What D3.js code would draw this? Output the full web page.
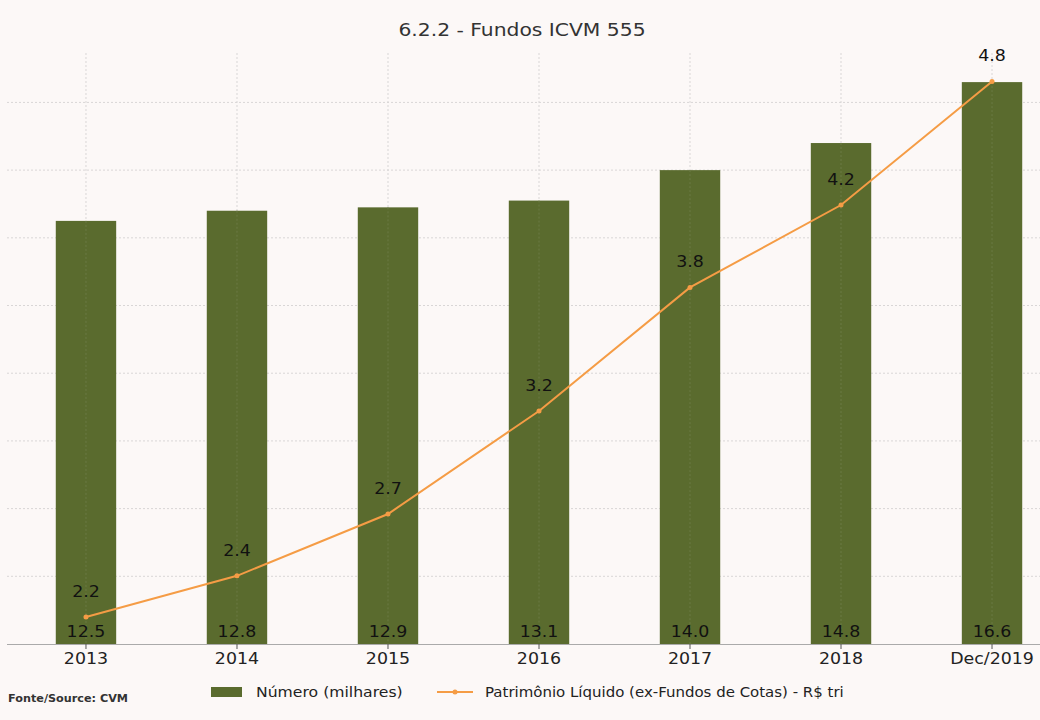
<!DOCTYPE html>
<html>
<head>
<meta charset="utf-8">
<script src="https://cdn.jsdelivr.net/npm/d3@7"></script>
<style>
  html, body { margin: 0; padding: 0; background: #fcf8f7; }
  svg { display: block; font-family: "DejaVu Sans", sans-serif; }
</style>
</head>
<body>
<svg id="chart" width="1040" height="720"></svg>
<script>
// ---- data ----
const categories = ["2013", "2014", "2015", "2016", "2017", "2018", "Dec/2019"];
const numero = [12.5, 12.8, 12.9, 13.1, 14.0, 14.8, 16.6];      // bars, thousands
const patrimonio = [2.2, 2.4, 2.7, 3.2, 3.8, 4.2, 4.8];           // line, R$ tri
const gridTicks = [0, 2, 4, 6, 8, 10, 12, 14, 16];

const title = "6.2.2 - Fundos ICVM 555";
const barName = "Número (milhares)";
const lineName = "Patrimônio Líquido (ex-Fundos de Cotas) - R$ tri";
const source = "Fonte/Source: CVM";

const green = "#5a6b2e", orange = "#f59c45", grid = "#d9d6d6", ink = "#222";
const SX = 1.16; // reference text is a bit wider than plain DejaVu

const svg = d3.select("#chart");
const m = { top: 53, right: 0, bottom: 76, left: 7 };
const H = 720 - m.top - m.bottom;   // plot height

const x = d3.scaleBand().domain(categories)
  .range([m.left, 1071]).paddingInner(0.6).paddingOuter(0.323);
const yBar = d3.scaleLinear().domain([0, 17.46]).range([m.top + H, m.top]);
const yLine = d3.scaleLinear().domain([2.069, 4.938]).range([m.top + H, m.top]);
const cx = d => x(d) + x.bandwidth() / 2;

// text placed at (px,py) and stretched horizontally around its anchor
function label(parent, px, py, str, size, anchor = "start", sx = SX) {
  return parent.append("text")
    .attr("transform", `translate(${px},${py}) scale(${sx},1)`)
    .attr("text-anchor", anchor).attr("font-size", size).attr("fill", ink)
    .text(str);
}

// title
label(svg, 522, 36, title, 17.5, "middle").attr("fill", "#333");

// horizontal grid
svg.append("g").selectAll("line").data(gridTicks.slice(1)).join("line")
  .attr("x1", m.left).attr("x2", 1040)
  .attr("y1", d => yBar(d)).attr("y2", d => yBar(d))
  .attr("stroke", grid).attr("stroke-dasharray", "2,2");

// vertical grid
svg.append("g").selectAll("line").data(categories).join("line")
  .attr("x1", cx).attr("x2", cx).attr("y1", m.top).attr("y2", m.top + H)
  .attr("stroke", grid).attr("stroke-dasharray", "2,2");

// bars
svg.append("g").selectAll("rect").data(numero).join("rect")
  .attr("x", (d, i) => x(categories[i])).attr("width", x.bandwidth())
  .attr("y", d => yBar(d)).attr("height", d => yBar(0) - yBar(d))
  .attr("fill", green);

// faint grid over bars
svg.append("g").selectAll("line").data(categories).join("line")
  .attr("x1", cx).attr("x2", cx)
  .attr("y1", (d, i) => yBar(numero[i])).attr("y2", m.top + H)
  .attr("stroke", "#6b7a45").attr("stroke-dasharray", "2,2");

// bar value labels
const barLabels = svg.append("g");
numero.forEach((d, i) => label(barLabels, cx(categories[i]), yBar(0) - 7, d.toFixed(1), 15, "middle").attr("fill", "#111"));

// x axis
const xAxis = svg.append("g").attr("transform", `translate(0,${yBar(0)})`)
  .call(d3.axisBottom(x).tickSize(5).tickPadding(4));
xAxis.select(".domain").attr("stroke", "#aaa").attr("d", `M${m.left},0.5H1040`);
xAxis.selectAll(".tick line").attr("stroke", "#555");
xAxis.selectAll(".tick text").attr("font-size", 15).attr("fill", ink)
  .attr("font-family", "DejaVu Sans, sans-serif")
  .attr("transform", `scale(${SX},1)`);

// line
svg.append("path").datum(patrimonio)
  .attr("fill", "none").attr("stroke", orange).attr("stroke-width", 2)
  .attr("d", d3.line().x((d, i) => cx(categories[i])).y(d => yLine(d)));

svg.append("g").selectAll("circle").data(patrimonio).join("circle")
  .attr("cx", (d, i) => cx(categories[i])).attr("cy", d => yLine(d))
  .attr("r", 2.5).attr("fill", orange);

const lineLabels = svg.append("g");
patrimonio.forEach((d, i) => label(lineLabels, cx(categories[i]), yLine(d) - 20, d.toFixed(1), 15, "middle").attr("fill", "#111"));

// legend
const lg = svg.append("g");
lg.append("rect").attr("x", 211).attr("y", 687).attr("width", 31).attr("height", 10).attr("fill", green);
label(lg, 256, 697, barName, 13.5);
lg.append("line").attr("x1", 437).attr("x2", 473).attr("y1", 692).attr("y2", 692)
  .attr("stroke", orange).attr("stroke-width", 2);
lg.append("circle").attr("cx", 455).attr("cy", 692).attr("r", 2.5).attr("fill", orange);
label(lg, 485, 697, lineName, 13.5, "start", 1.11);

// source
label(svg, 8, 702, source, 10.5, "start", 1.07).attr("font-weight", "bold").attr("fill", "#333");
</script>
</body>
</html>
